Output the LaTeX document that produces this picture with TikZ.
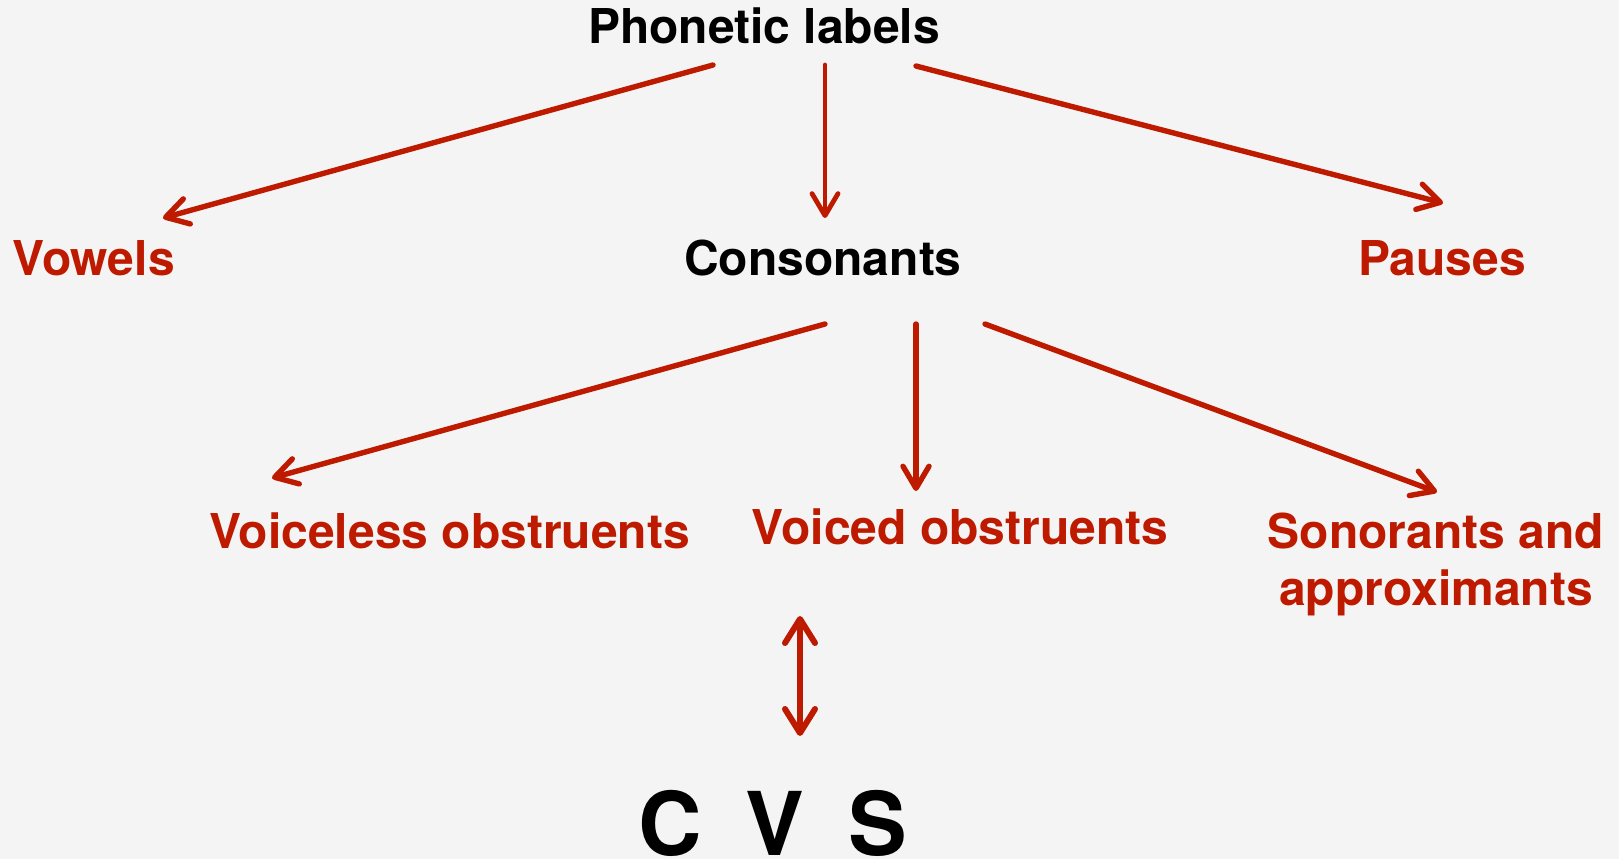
\documentclass[tikz,border=0pt]{standalone}
\usepackage{fontspec}
\setmainfont{TeX Gyre Heros}
\usetikzlibrary{arrows.meta}
\definecolor{tred}{RGB}{189,26,0}
\definecolor{paper}{RGB}{244,244,244}
\begin{document}
\begin{tikzpicture}[x=0.5pt, y=-0.5pt,
    lbl/.style={anchor=base, inner sep=0pt, font=\fontsize{24}{28.5}\selectfont\bfseries},
    cat/.style={lbl, text=tred},
    arr/.style={draw=tred, line width=2.7pt, line cap=round,
        -{Straight Barb[length=11pt, width=13pt, round]}},
    dbl/.style={draw=tred, line width=3pt,
        {Straight Barb[length=12pt, width=15pt, round]}-{Straight Barb[length=12pt, width=15pt, round]}}]
    % Background
    \fill[paper] (0,0) rectangle (1619,859);
    \useasboundingbox (0,0) rectangle (1619,859);
    % Labels
    \node[lbl] (pl)  at (764,43)    {Phonetic labels};
    \node[cat] (vow) at (93.5,275)  {Vowels};
    \node[lbl] (con) at (823,275)   {Consonants};
    \node[cat] (pau) at (1442,275)  {Pauses};
    \node[cat] (vl)  at (449.5,548) {Voiceless obstruents};
    \node[cat] (vd)  at (960,544)   {Voiced obstruents};
    \node[cat, align=center] (son) at (1436,605) {Sonorants and\\approximants};
    \node[lbl, font=\fontsize{44}{44}\selectfont\bfseries] (cvs) at (772.5,855)
        {C\hspace{0.5em}V\hspace{0.5em}S};
    % Arrows from the top
    \draw[arr] ([shift={(-51,22)}]pl.base) -- ([shift={(69.5,-57)}]vow.base);
    \draw[arr, line width=2.4pt] ([shift={(61,22)}]pl.base) -- ([shift={(2,-57)}]con.base);
    \draw[arr] ([shift={(152,23)}]pl.base) -- ([shift={(1,-72)}]pau.base);
    % Arrows from consonants
    \draw[arr] ([shift={(2,49)}]con.base) -- ([shift={(-177.5,-70)}]vl.base);
    \draw[arr] ([shift={(93,49)}]con.base) -- ([shift={(-44,-53)}]vd.base);
    \draw[arr] ([shift={(162,49)}]con.base) -- ([shift={(1,-113)}]son.base);
    % Double arrow
    \draw[dbl] ([shift={(-160,72)}]vd.base) -- ([shift={(27.5,-119)}]cvs.base);
\end{tikzpicture}
\end{document}
